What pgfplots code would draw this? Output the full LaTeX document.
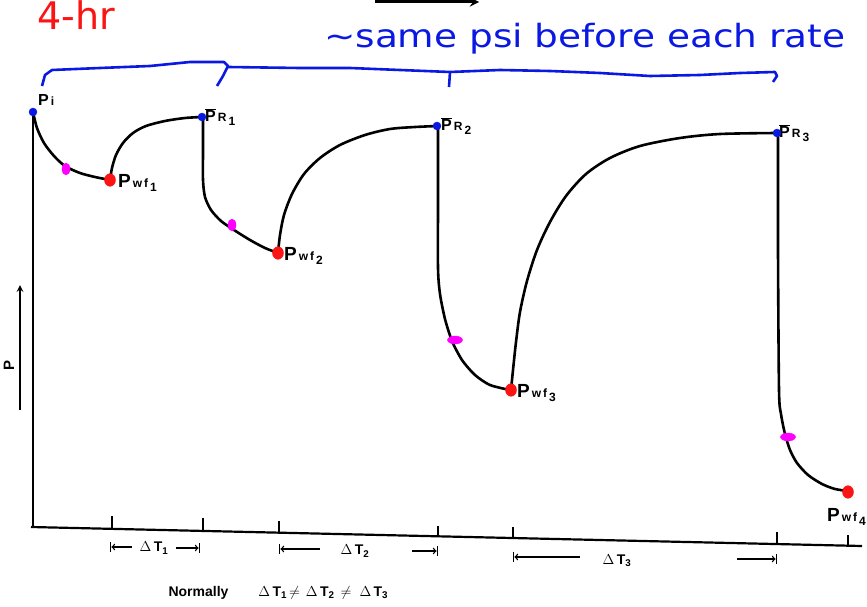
\documentclass[border=0pt]{standalone}
\usepackage{pgfplots}
\pgfplotsset{compat=1.18}
\usepackage{fontspec}
\setmainfont{Liberation Sans}
\newfontfamily\hand{DejaVu Sans}
\definecolor{inkblue}{RGB}{10,25,225}
\definecolor{inkred}{RGB}{250,20,20}
\definecolor{inkmag}{RGB}{255,0,255}
\newcommand{\Pbar}{$\overline{\mbox{P}}$}
\newcommand{\lab}[3]{#1{\fontsize{12}{12}\selectfont\,#2\,\raisebox{-4pt}{#3}}}
\begin{document}
\begin{tikzpicture}
\begin{axis}[scale only axis, width=867pt, height=607pt,
  xmin=0, xmax=867, ymin=0, ymax=607, y dir=reverse,
  hide axis, clip=false]
% axes
\addplot[black, line width=2.6pt] coordinates {(33,112) (33,528)};
\addplot[black, line width=2.2pt] coordinates {(31,527) (862,546)};
% ticks
\addplot[black, line width=1.4pt] coordinates {(112,529) (112,516)};
\addplot[black, line width=1.4pt] coordinates {(203,531) (203,518)};
\addplot[black, line width=1.4pt] coordinates {(279,533) (279,521)};
\addplot[black, line width=1.4pt] coordinates {(438,536) (438,526)};
\addplot[black, line width=1.4pt] coordinates {(513,538) (513,527)};
\addplot[black, line width=1.4pt] coordinates {(777,544) (777,532)};
\addplot[black, line width=1.4pt] coordinates {(848,546) (848,535)};
% curves
\addplot[black, line width=2.6pt, smooth, tension=0.5] coordinates {
(33,112) (37,128) (44,143) (54,156) (65,166) (80,173) (95,177) (110,180)};
\addplot[black, line width=2.6pt, smooth, tension=0.5] coordinates {
(110,180) (112,168) (116,155) (123,143) (133,133) (146,126) (165,121) (185,118) (202,117)};
\addplot[black, line width=2.6pt, smooth, tension=0.45] coordinates {
(203,117) (203,150) (203,180) (205,197) (211,210) (221,221) (234,230) (250,240) (265,248) (278,253)};
\addplot[black, line width=2.6pt, smooth, tension=0.5] coordinates {
(278,253) (280,235) (284,215) (292,194) (304,174) (320,158) (340,145) (365,135) (390,129) (415,127) (438,126)};
\addplot[black, line width=2.6pt, smooth, tension=0.45] coordinates {
(438,126) (438,200) (438,268) (440,294) (445,319) (452,341) (462,360) (475,375) (490,385) (510,390)};
\addplot[black, line width=2.6pt, smooth, tension=0.5] coordinates {
(511,390) (513,370) (516,342) (520,312) (527,281) (537,250) (550,222) (566,196) (586,174) (610,158) (640,146) (680,138) (720,134) (777,133)};
\addplot[black, line width=2.6pt, smooth, tension=0.45] coordinates {
(778,133) (778,250) (779,390) (781,414) (785,434) (790,450) (797,463) (808,475) (822,484) (835,489) (848,491)};
% blue points
\addplot[only marks, mark=*, mark size=4pt, inkblue] coordinates {(33,112) (202,117) (437,126) (777,133)};
% red points
\addplot[only marks, mark=*, mark size=5.5pt, inkred, mark options={yscale=1.15}] coordinates {(110,180) (278,253) (511,390) (848,492)};
% magenta points
\addplot[only marks, mark=*, mark size=5pt, inkmag, mark options={xscale=0.8, yscale=1.2}] coordinates {(66,169) (232,225)};
\addplot[only marks, mark=*, mark size=5pt, inkmag, mark options={xscale=1.5, yscale=0.8, rotate=-30}] coordinates {(455,340) (788,437)};
% labels
\tikzset{lbl/.style={anchor=base west, inner sep=1pt, font=\bfseries\fontsize{19}{19}\selectfont}}
\node[lbl, font=\bfseries\fontsize{16}{16}\selectfont] at (axis cs:37,106) {P{\fontsize{12}{12}\selectfont\,i}};
\node[lbl] at (axis cs:117,187) {\lab{P}{w\,f}{1}};
\node[lbl] at (axis cs:283,260) {\lab{P}{w\,f}{2}};
\node[lbl] at (axis cs:516,397) {\lab{P}{w\,f}{3}};
\node[lbl] at (axis cs:826,521) {\lab{P}{w\,f}{4}};
\node[lbl, font=\bfseries\fontsize{16}{16}\selectfont] at (axis cs:204,122) {\lab{\Pbar}{R}{1}};
\node[lbl, font=\bfseries\fontsize{16}{16}\selectfont] at (axis cs:440,131) {\lab{\Pbar}{R}{2}};
\node[lbl, font=\bfseries\fontsize{16}{16}\selectfont] at (axis cs:778,138) {\lab{\Pbar}{R}{3}};
% y label
\addplot[black, line width=2pt, -stealth] coordinates {(20,410) (20,285)};
\node[rotate=90, font=\bfseries\fontsize{15}{15}\selectfont] at (axis cs:9,365) {P};
% delta T marks
\tikzset{dt/.style={font=\bfseries\fontsize{14}{14}\selectfont}}
\addplot[black, line width=1.4pt, |<-] coordinates {(110,547) (132,547)};
\addplot[black, line width=1.4pt, ->|] coordinates {(176,548) (200,548)};
\node[dt] at (axis cs:154,548) {$\Delta$\,T\textsubscript{1}};
\addplot[black, line width=1.4pt, |<-] coordinates {(279,549) (320,549)};
\addplot[black, line width=1.4pt, ->|] coordinates {(412,551) (438,551)};
\node[dt] at (axis cs:355,551) {$\Delta$\,T\textsubscript{2}};
\addplot[black, line width=1.4pt, |<-] coordinates {(513,557) (580,557)};
\addplot[black, line width=1.4pt, ->|] coordinates {(737,559) (777,559)};
\node[dt] at (axis cs:617,561) {$\Delta$\,T\textsubscript{3}};
\node[anchor=base west, font=\bfseries\fontsize{14}{14}\selectfont] at (axis cs:165,596) {Normally\hspace{30pt}$\Delta$\,T\textsubscript{1}\hspace{2pt}$\neq$\hspace{6pt}$\Delta$\,T\textsubscript{2}\hspace{6pt}$\neq$\hspace{8pt}$\Delta$\,T\textsubscript{3}};
% handwritten annotations
\node[anchor=base west, inkred, font=\hand\fontsize{38}{38}\selectfont] at (axis cs:34,30) {4-hr};
\node[anchor=base west, inkblue, xscale=1.17, font=\hand\fontsize{32}{32}\selectfont] at (axis cs:320,48) {\textasciitilde same psi before each rate};
\addplot[black, line width=3pt, -stealth] coordinates {(375,2) (479,2)};
% blue brace
\addplot[inkblue, line width=2.6pt, line join=round] coordinates {
(42,86) (45,75) (52,70) (100,68) (150,66) (190,62) (224,62) (228,66) (223,76) (217,86)};
\addplot[inkblue, line width=2.6pt, line join=round] coordinates {
(228,67) (300,68) (350,68) (400,70) (450,72) (500,70) (550,71) (600,73) (650,76) (700,75) (740,73) (775,72) (777,76) (773,82)};
\addplot[inkblue, line width=2.6pt] coordinates {(450,72) (449,87)};
\end{axis}
\pgfresetboundingbox
\path (0,0) rectangle (867pt,607pt);
\end{tikzpicture}
\end{document}
